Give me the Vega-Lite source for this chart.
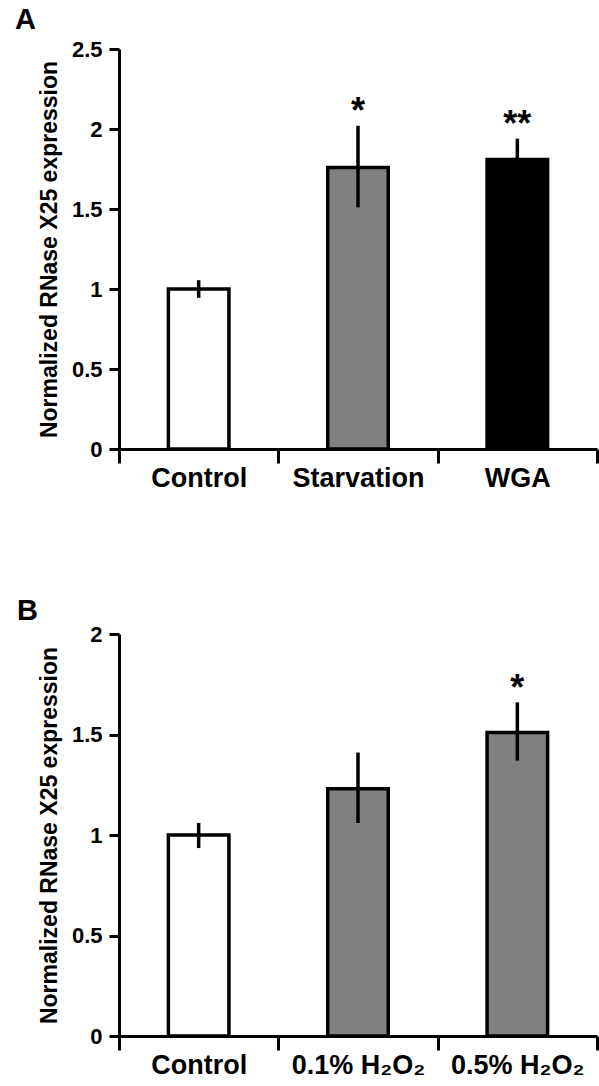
{
  "$schema": "https://vega.github.io/schema/vega-lite/v6.json",
  "padding": {"left": 15, "top": 6, "right": 0, "bottom": 0},
  "background": "white",
  "spacing": 106,
  "config": {
    "font": "Liberation Sans",
    "view": {"stroke": null},
    "axisX": {"domainColor": "black", "domainWidth": 3, "tickColor": "black", "tickWidth": 3, "tickSize": 14, "tickBand": "extent", "labelFontSize": 27, "labelFontWeight": "bold", "labelColor": "black", "labelAngle": 0, "labelPadding": 2, "grid": false, "labelLimit": 300},
    "axisY": {"domainColor": "black", "domainWidth": 3, "tickColor": "black", "tickWidth": 3, "tickSize": 10, "labelFontSize": 22, "labelFontWeight": "bold", "labelColor": "black", "labelPadding": 7, "titleFontSize": 23, "titleFontWeight": "bold", "titleColor": "black", "titlePadding": 10, "grid": false},
    "title": {"fontSize": 29, "fontWeight": "bold", "color": "black", "anchor": "start", "frame": "group"}
  },
  "resolve": {"scale": {"fill": "independent", "x": "independent", "y": "independent"}},
  "vconcat": [
    {
      "width": 478,
      "height": 400,
      "title": {"text": "A", "dx": -104, "offset": 3},
      "data": {"values": [
        {"group": "Control", "mean": 1.0, "lo": 0.945, "hi": 1.055, "sig": ""},
        {"group": "Starvation", "mean": 1.76, "lo": 1.51, "hi": 2.02, "sig": "*"},
        {"group": "WGA", "mean": 1.81, "lo": 1.68, "hi": 1.94, "sig": "**"}
      ]},
      "encoding": {
        "x": {"field": "group", "type": "nominal", "sort": null, "scale": {"paddingInner": 0, "paddingOuter": 0}, "axis": {"title": null}}
      },
      "layer": [
        {
          "mark": {"type": "bar", "width": {"band": 0.38}, "stroke": "black", "strokeWidth": 3.5},
          "encoding": {
            "y": {"field": "mean", "type": "quantitative", "scale": {"domain": [0, 2.5], "nice": false}, "axis": {"title": "Normalized RNase X25 expression", "values": [0, 0.5, 1, 1.5, 2, 2.5], "format": "~g", "labelFontSize": 22, "labelFontWeight": "bold", "labelColor": "black", "labelPadding": 7, "tickWidth": 3, "tickSize": 10, "titleFontSize": 23, "titleFontWeight": "bold", "titlePadding": 10}},
            "fill": {"field": "group", "type": "nominal", "scale": {"domain": ["Control", "Starvation", "WGA"], "range": ["white", "#808080", "black"]}, "legend": null}
          }
        },
        {
          "mark": {"type": "rule", "strokeWidth": 3.5, "color": "black"},
          "encoding": {"y": {"field": "lo", "type": "quantitative"}, "y2": {"field": "hi"}}
        },
        {
          "mark": {"type": "text", "fontSize": 36, "fontWeight": "bold", "baseline": "alphabetic", "dy": -3, "color": "black"},
          "encoding": {"y": {"field": "hi", "type": "quantitative"}, "text": {"field": "sig"}}
        }
      ]
    },
    {
      "width": 478,
      "height": 402,
      "title": {"text": "B", "dx": -102, "offset": -3},
      "data": {"values": [
        {"group": "Control", "mean": 1.0, "lo": 0.935, "hi": 1.06, "sig": ""},
        {"group": "0.1% H₂O₂", "mean": 1.23, "lo": 1.06, "hi": 1.41, "sig": ""},
        {"group": "0.5% H₂O₂", "mean": 1.51, "lo": 1.37, "hi": 1.66, "sig": "*"}
      ]},
      "encoding": {
        "x": {"field": "group", "type": "nominal", "sort": null, "scale": {"paddingInner": 0, "paddingOuter": 0}, "axis": {"title": null}}
      },
      "layer": [
        {
          "mark": {"type": "bar", "width": {"band": 0.38}, "stroke": "black", "strokeWidth": 3.5},
          "encoding": {
            "y": {"field": "mean", "type": "quantitative", "scale": {"domain": [0, 2], "nice": false}, "axis": {"title": "Normalized RNase X25 expression", "values": [0, 0.5, 1, 1.5, 2], "format": "~g", "labelFontSize": 22, "labelFontWeight": "bold", "labelColor": "black", "labelPadding": 7, "tickWidth": 3, "tickSize": 10, "titleFontSize": 23, "titleFontWeight": "bold", "titlePadding": 10}},
            "fill": {"field": "group", "type": "nominal", "scale": {"domain": ["Control", "0.1% H₂O₂", "0.5% H₂O₂"], "range": ["white", "#808080", "#808080"]}, "legend": null}
          }
        },
        {
          "mark": {"type": "rule", "strokeWidth": 3.5, "color": "black"},
          "encoding": {"y": {"field": "lo", "type": "quantitative"}, "y2": {"field": "hi"}}
        },
        {
          "mark": {"type": "text", "fontSize": 36, "fontWeight": "bold", "baseline": "alphabetic", "dy": -2, "color": "black"},
          "encoding": {"y": {"field": "hi", "type": "quantitative"}, "text": {"field": "sig"}}
        }
      ]
    }
  ]
}
